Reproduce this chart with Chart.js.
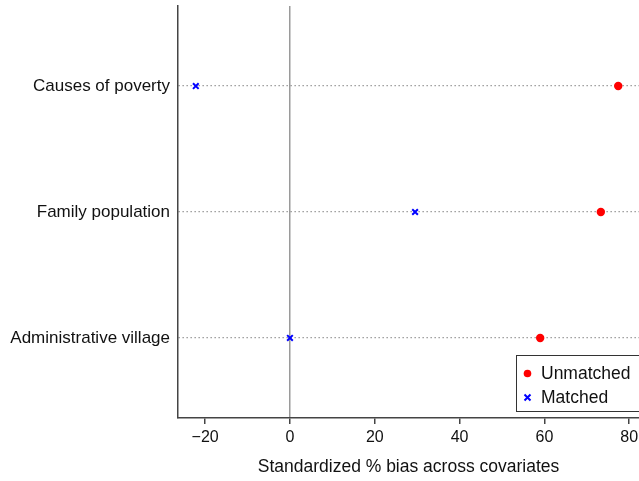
<!DOCTYPE html>
<html>
<head>
<meta charset="utf-8">
<script src="https://cdn.jsdelivr.net/npm/chart.js@4/dist/chart.umd.min.js"></script>
<style>
  html, body { margin: 0; padding: 0; background: #fff; }
  #wrap { width: 639px; height: 481px; position: relative; }
</style>
</head>
<body>
<div id="wrap"><canvas id="biasChart"></canvas></div>
<script>
// covariates, top to bottom
var categories = ["Causes of poverty", "Family population", "Administrative village"];
// standardized % bias
var unmatched = [77.4, 73.3, 59.0];
var matched = [-22.2, 29.5, 0.0];
var xTicks = [-20, 0, 20, 40, 60, 80];

var FONT = "'Liberation Sans', Arial, sans-serif";

function toPoints(vals) {
  return vals.map(function(v, i) { return { x: v, y: i + 1 }; });
}

// legend box drawn inside the plot, bottom right
var insideLegend = {
  id: "insideLegend",
  afterDraw: function(chart) {
    var ctx = chart.ctx;
    var x = 516.5, y = 355.5, w = 130, h = 56;
    ctx.save();
    ctx.fillStyle = "#fff";
    ctx.fillRect(x, y, w, h);
    ctx.strokeStyle = "#333";
    ctx.lineWidth = 1;
    ctx.strokeRect(x, y, w, h);

    // unmatched marker
    ctx.fillStyle = "#ff0000";
    ctx.beginPath();
    ctx.arc(527.5, 373.5, 3.8, 0, Math.PI * 2);
    ctx.fill();
    // matched marker
    ctx.strokeStyle = "#0000ff";
    ctx.lineWidth = 2;
    ctx.beginPath();
    ctx.moveTo(524.5, 394.5); ctx.lineTo(530.5, 400.5);
    ctx.moveTo(530.5, 394.5); ctx.lineTo(524.5, 400.5);
    ctx.stroke();

    ctx.fillStyle = "#111";
    ctx.font = "17.5px " + FONT;
    ctx.textBaseline = "middle";
    ctx.fillText(chart.data.datasets[0].label, 541, 374);
    ctx.fillText(chart.data.datasets[1].label, 541, 398);
    ctx.restore();
  }
};

var config = {
  type: "scatter",
  data: {
    datasets: [
      {
        label: "Unmatched",
        data: toPoints(unmatched),
        pointStyle: "circle",
        pointRadius: 4.2,
        backgroundColor: "#ff0000",
        borderColor: "#ff0000",
        borderWidth: 0
      },
      {
        label: "Matched",
        data: toPoints(matched),
        pointStyle: "crossRot",
        pointRadius: 4,
        backgroundColor: "#0000ff",
        borderColor: "#0000ff",
        borderWidth: 2
      }
    ]
  },
  options: {
    responsive: true,
    maintainAspectRatio: false,
    animation: false,
    layout: { autoPadding: false, padding: { top: 6, left: 0, right: 0, bottom: 0 } },
    plugins: {
      legend: { display: false },
      tooltip: { enabled: false }
    },
    scales: {
      x: {
        type: "linear",
        min: -26.4,
        max: 82.3,
        afterBuildTicks: function(axis) {
          axis.ticks = xTicks.map(function(v) { return { value: v }; });
        },
        afterFit: function(axis) {
          axis.height = 63;
          axis.paddingLeft = 0;
          axis.paddingRight = 0;
        },
        grid: {
          drawOnChartArea: true,
          color: function(c) { return c.tick && c.tick.value === 0 ? "#9a9a9a" : "rgba(0,0,0,0)"; },
          lineWidth: 1.5,
          tickColor: "#444",
          tickLength: 6
        },
        border: { color: "#444", width: 1.5 },
        ticks: {
          color: "#111",
          padding: 4,
          maxRotation: 0,
          font: { family: FONT, size: 16 },
          callback: function(v) { return v < 0 ? "\u2212" + Math.abs(v) : String(v); }
        },
        title: {
          display: true,
          text: "Standardized % bias across covariates",
          color: "#111",
          font: { family: FONT, size: 17.5 },
          padding: { top: 0, bottom: 3 }
        }
      },
      y: {
        type: "linear",
        reverse: true,
        min: 0.365,
        max: 3.635,
        afterBuildTicks: function(axis) {
          axis.ticks = categories.map(function(c, i) { return { value: i + 1 }; });
        },
        afterFit: function(axis) {
          axis.width = 178;
          axis.paddingTop = 0;
          axis.paddingBottom = 0;
        },
        grid: {
          color: "#8c8c8c",
          lineWidth: 1.3,
          drawTicks: false,
          tickLength: 0
        },
        border: { color: "#444", width: 1.5, dash: [1.3, 2.7] },
        ticks: {
          color: "#111",
          padding: 8,
          font: { family: FONT, size: 17 },
          callback: function(v) { return categories[v - 1] || ""; }
        }
      }
    }
  },
  plugins: [insideLegend]
};

new Chart(document.getElementById("biasChart").getContext("2d"), config);
</script>
</body>
</html>
